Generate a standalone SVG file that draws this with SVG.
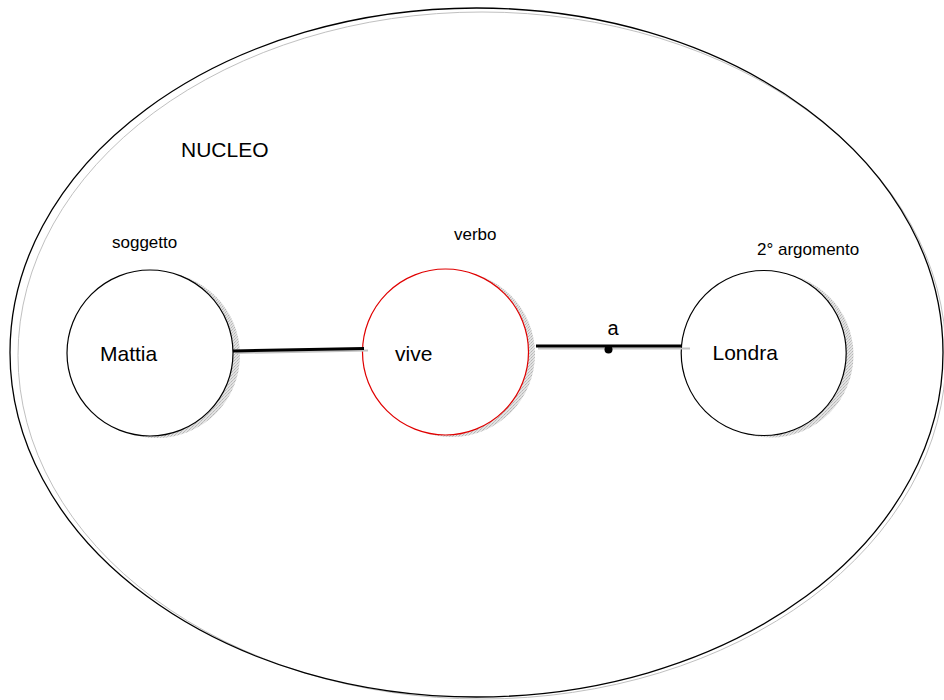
<svg xmlns="http://www.w3.org/2000/svg" width="944" height="700" viewBox="0 0 944 700">
<style>
.t{font-family:"Liberation Sans",Arial,sans-serif;fill:#000}
.big{font-size:21px}
.sm{font-size:17px}
.node{fill:#fff;stroke:#000;stroke-width:1.2}
.shadow{fill:url(#stip);stroke:none}
.edge{stroke:#000;stroke-width:3;fill:none}
.eshadow{stroke:#c4c4c4;stroke-width:2;fill:none}
</style>
<defs>
<pattern id="stip" width="3" height="3" patternUnits="userSpaceOnUse">
<rect width="3" height="3" fill="#e2e2e2"/>
<rect x="0" y="0" width="1" height="1" fill="#b4b4b4"/>
<rect x="2" y="1" width="1" height="1" fill="#c4c4c4"/>
<rect x="1" y="2" width="1" height="1" fill="#bcbcbc"/>
</pattern>
</defs>
<rect width="944" height="700" fill="#fff"/>
<g id="nucleo">
<ellipse cx="482" cy="355.5" rx="464" ry="343.5" fill="none" stroke="#c0c0c0" stroke-width="1"/>
<ellipse cx="476.5" cy="352.5" rx="466.5" ry="344.5" fill="none" stroke="#000" stroke-width="1.3"/>
<text class="t big" x="181" y="157">NUCLEO</text>
</g>
<g id="mattia">
<circle class="shadow" cx="157" cy="355" r="83"/>
<circle class="node" cx="150" cy="353" r="83"/>
<text class="t big" x="100" y="361">Mattia</text>
<text class="t sm" x="112" y="248">soggetto</text>
</g>
<g id="vive">
<circle class="shadow" cx="452" cy="354" r="83"/>
<circle cx="445.5" cy="352" r="83" fill="#fff" stroke="#e00000" stroke-width="1.2"/>
<text class="t big" x="395" y="360.5">vive</text>
<text class="t sm" x="454" y="240">verbo</text>
</g>
<g id="londra">
<circle class="shadow" cx="771" cy="355" r="82.5"/>
<circle class="node" cx="763.7" cy="353" r="82.5"/>
<text class="t big" x="712.5" y="360">Londra</text>
<text class="t sm" x="757" y="255">2° argomento</text>
</g>
<g id="connectors">
<line class="eshadow" x1="236" y1="353" x2="368" y2="350.5"/>
<line class="edge" x1="233" y1="351" x2="364" y2="348.5"/>
<line class="eshadow" x1="538" y1="348.5" x2="690" y2="348.5"/>
<line class="edge" x1="536" y1="346" x2="682" y2="346"/>
<circle cx="608.5" cy="349.5" r="4" fill="#000"/>
<text class="t" font-size="20" x="613" y="335" text-anchor="middle">a</text>
</g>
</svg>
